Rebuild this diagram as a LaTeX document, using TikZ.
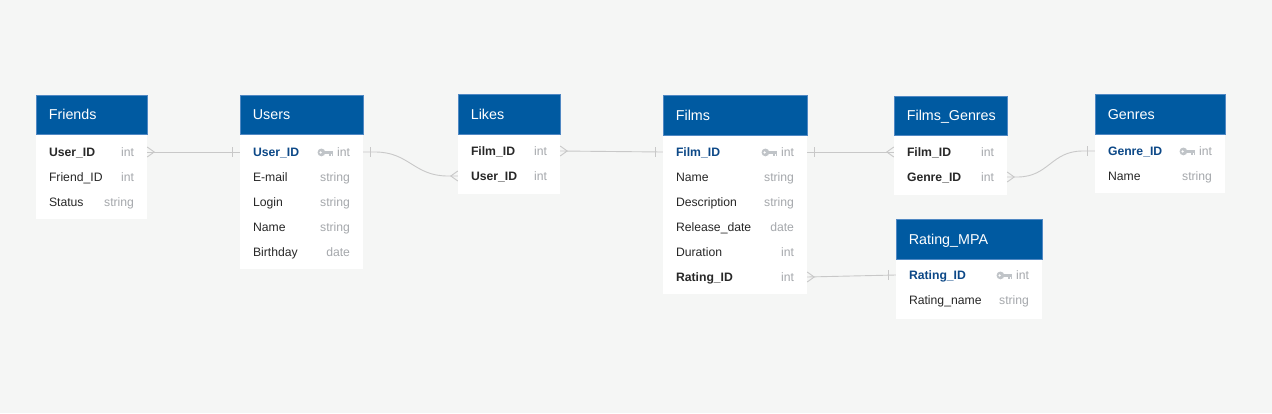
\documentclass[tikz,border=0pt]{standalone}
\usepackage{fontspec}
\setmainfont{Liberation Sans}
\usetikzlibrary{calc}
\definecolor{bg}{RGB}{245,246,245}
\definecolor{hdrfill}{RGB}{0,90,161}
\definecolor{hdrline}{RGB}{80,136,195}
\definecolor{txt}{RGB}{40,40,40}
\definecolor{pktxt}{RGB}{12,72,135}
\definecolor{typetxt}{RGB}{165,168,172}
\definecolor{keyc}{RGB}{192,196,200}
\definecolor{lineC}{RGB}{200,200,200}
\tikzset{
  erbody/.style={rectangle, fill=white, inner sep=0pt},
  erhead/.style={rectangle, fill=hdrfill, draw=hdrline, line width=0.7pt, inner sep=0pt},
  ertitle/.style={inner sep=0pt, text=white, font=\fontsize{14.3}{16}\selectfont},
  errowbox/.style={rectangle, inner sep=0pt, minimum height=25pt},
  fname/.style={inner sep=0pt, text=txt, font=\fontsize{12.2}{14}\selectfont},
  fref/.style={inner sep=0pt, text=txt, font=\fontsize{12.2}{14}\selectfont\bfseries},
  fpk/.style={inner sep=0pt, text=pktxt, font=\fontsize{12.2}{14}\selectfont\bfseries},
  ftype/.style={inner sep=0pt, text=typetxt, font=\fontsize{12.2}{14}\selectfont},
  conn/.style={draw=lineC, line width=0.9pt},
}
% #1 name, #2 xl, #3 xr, #4 header top, #5 header bottom, #6 body bottom, #7 title
\newcommand\ertable[7]{%
  \def\curxl{#2}\def\curxr{#3}%
  \node[erbody, minimum width={(#3-#2)*1pt}, minimum height={(#6-#5)*1pt}] (#1-body) at ({(#2+#3)/2},{(#5+#6)/2}) {};
  \node[erhead, minimum width={(#3-#2)*1pt}, minimum height={(#5-#4)*1pt}] (#1) at ({(#2+#3)/2},{(#4+#5)/2}) {};
  \node[ertitle, anchor=base west] (#1-title) at ($(#1.west)+(13,5)$) {#7};
}
% #1 name, #2 y, #3 field style, #4 field, #5 type
\newcommand\errow[5]{%
  \node[errowbox, minimum width={(\curxr-\curxl)*1pt}] (#1) at ({(\curxl+\curxr)/2},#2) {};
  \node[#3, anchor=base west] (#1-f) at ($(#1.west)+(13,4.5)$) {#4};
  \node[ftype, anchor=base east] (#1-t) at ($(#1.east)+(-13,4.5)$) {#5};
}
\newcommand\erkey[1]{%
  \begin{scope}[shift={($(#1-t.west)+(0,0.3)$)}]
    \fill[keyc] (-15.5,0) circle (3.9pt);
    \fill[white] (-16.3,0) circle (1.2pt);
    \fill[keyc] (-12.5,-1.7) rectangle (-3.5,1.5);
    \fill[keyc] (-8.2,1.5) rectangle (-6.4,3.6);
    \fill[keyc] (-5.3,1.5) rectangle (-3.5,3.6);
  \end{scope}%
}
\newcommand\crowfoot[2]{%
  \draw[conn] ($(#1)+(0,-5)$) -- ($(#1)+(#2*7,0)$) -- ($(#1)+(0,5)$);
}
\newcommand\onebar[2]{%
  \draw[conn] ($(#1)+(#2*7,-5)$) -- ($(#1)+(#2*7,5)$);
}
\begin{document}
\begin{tikzpicture}[x=1pt, y=-1pt]
\fill[bg] (0,0) rectangle (1272,413);
\useasboundingbox (0,0) rectangle (1272,413);

% Friends
\ertable{Fr}{36}{147}{95}{134}{219}{Friends}
\errow{Fr-uid}{152}{fref}{User\_ID}{int}
\errow{Fr-fid}{177}{fname}{Friend\_ID}{int}
\errow{Fr-st}{202}{fname}{Status}{string}

% Users
\ertable{Us}{240}{363}{95}{134}{269}{Users}
\errow{Us-uid}{152}{fpk}{User\_ID}{int}
\erkey{Us-uid}
\errow{Us-em}{177}{fname}{E-mail}{string}
\errow{Us-lg}{202}{fname}{Login}{string}
\errow{Us-nm}{227}{fname}{Name}{string}
\errow{Us-bd}{252}{fname}{Birthday}{date}

% Likes
\ertable{Lk}{458}{560}{94}{134}{194}{Likes}
\errow{Lk-fid}{151}{fref}{Film\_ID}{int}
\errow{Lk-uid}{176}{fref}{User\_ID}{int}

% Films
\ertable{Fm}{663}{807}{95}{135}{294}{Films}
\errow{Fm-fid}{152}{fpk}{Film\_ID}{int}
\erkey{Fm-fid}
\errow{Fm-nm}{177}{fname}{Name}{string}
\errow{Fm-ds}{202}{fname}{Description}{string}
\errow{Fm-rd}{227}{fname}{Release\_date}{date}
\errow{Fm-du}{252}{fname}{Duration}{int}
\errow{Fm-rid}{277}{fref}{Rating\_ID}{int}

% Films_Genres
\ertable{FG}{894}{1007}{96}{135}{195}{Films\_Genres}
\errow{FG-fid}{152}{fref}{Film\_ID}{int}
\errow{FG-gid}{177}{fref}{Genre\_ID}{int}

% Genres
\ertable{Gn}{1095}{1225}{94}{134}{193}{Genres}
\errow{Gn-gid}{151}{fpk}{Genre\_ID}{int}
\erkey{Gn-gid}
\errow{Gn-nm}{176}{fname}{Name}{string}

% Rating_MPA
\ertable{Rt}{896}{1042}{219}{259}{319}{Rating\_MPA}
\errow{Rt-rid}{275}{fpk}{Rating\_ID}{int}
\erkey{Rt-rid}
\errow{Rt-nm}{300}{fname}{Rating\_name}{string}

% Connectors
\draw[conn] (Fr-uid.east) -- (Us-uid.west);
\crowfoot{Fr-uid.east}{1}
\onebar{Us-uid.west}{-1}

\draw[conn] (Us-uid.east) -- ++(12,0) .. controls +(34,0) and +(-34,0) .. ($(Lk-uid.west)+(-10,0)$) -- (Lk-uid.west);
\onebar{Us-uid.east}{1}
\crowfoot{Lk-uid.west}{-1}

\draw[conn] (Lk-fid.east) -- (Fm-fid.west);
\crowfoot{Lk-fid.east}{1}
\onebar{Fm-fid.west}{-1}

\draw[conn] (Fm-fid.east) -- (FG-fid.west);
\onebar{Fm-fid.east}{1}
\crowfoot{FG-fid.west}{-1}

\draw[conn] (FG-gid.east) -- ++(10,0) .. controls +(32,0) and +(-32,0) .. ($(Gn-gid.west)+(-12,0)$) -- (Gn-gid.west);
\crowfoot{FG-gid.east}{1}
\onebar{Gn-gid.west}{-1}

\draw[conn] (Fm-rid.east) -- (Rt-rid.west);
\crowfoot{Fm-rid.east}{1}
\onebar{Rt-rid.west}{-1}
\end{tikzpicture}
\end{document}
